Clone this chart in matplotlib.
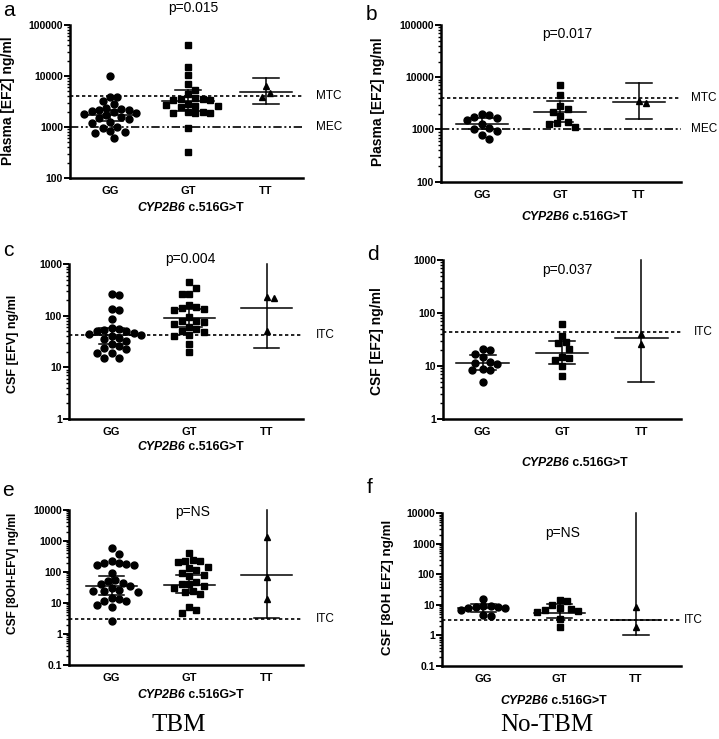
import numpy as np
import matplotlib.pyplot as plt
from matplotlib.ticker import FixedLocator, LogLocator, NullFormatter

plt.rcParams['font.family'] = ['Liberation Sans', 'DejaVu Sans']

W, H = 719, 739
genotypes = ['GG', 'GT', 'TT']

# a: plasma EFZ, TBM
a_gg = [10000, 3900, 3800, 3300, 2800, 2400, 2300, 2200, 2200, 2100, 2000, 1850,
        1800, 1700, 1600, 1500, 1450, 1250, 1200, 1000, 950, 820, 800, 780, 600]
a_gt = [40000, 15000, 10500, 7000, 5300, 4500, 3700, 3600, 3500, 3400, 3400, 2800,
        2700, 2600, 2600, 2500, 2000, 1950, 1900, 1900, 1850, 950, 330]
a_tt = [6300, 4700, 3900]
a_summ = [(1700, 1300, 2200), (3200, 2100, 5200), (4900, 2800, 9300)]

# b: plasma EFZ, no TBM
b_gg = [1950, 1900, 1750, 1650, 1500, 1300, 1050, 1000, 950, 780, 670]
b_gt = [7000, 4500, 2800, 2500, 2200, 1800, 1400, 1350, 1300, 1100]
b_tt = [3550, 3150]
b_summ = [(1270, 1000, 1650), (2200, 1400, 3550), (3400, 1620, 7900)]

# c: CSF EFV, TBM
c_gg = [260, 250, 135, 130, 88, 58, 55, 53, 52, 50, 47, 45, 42, 40, 38, 35, 33,
        28, 26, 24, 23, 19, 19, 15, 15]
c_gt = [450, 350, 270, 260, 165, 150, 140, 135, 130, 95, 80, 78, 75, 70, 60, 55,
        52, 48, 42, 40, 28, 20]
c_tt = [236, 225, 51]
c_summ = [(43, 29, 58), (90, 62, 135), (140, 24, 1000)]

# d: CSF EFZ, no TBM
d_gg = [20.5, 20, 17, 14.5, 12, 11.5, 11, 8.7, 8.5, 8.4, 5]
d_gt = [61, 37, 28, 27, 21, 14.5, 14, 13, 10, 6.5]
d_tt = [40, 26]
d_summ = [(11.6, 8.4, 16.2), (17.5, 10.7, 29), (34, 5, 1000)]

# e: CSF 8OH-EFV, TBM
e_gg = [580, 380, 230, 200, 190, 180, 170, 165, 90, 55, 50, 45, 40, 35, 30, 27,
        25, 24, 22, 14, 13, 12, 12, 8.5, 7.5, 2.6]
e_gt = [420, 250, 230, 220, 210, 150, 130, 115, 90, 80, 75, 48, 42, 40, 35, 30,
        25, 22, 20, 7.5, 6, 4.8]
e_tt = [1380, 71, 13]
e_summ = [(35, 18, 75), (38, 21, 80), (80, 3.4, 10000)]

# f: CSF 8OH EFZ, no TBM
f_gg = [16, 9, 9, 8.5, 8.5, 8, 8, 7, 4.8, 4.5]
f_gt = [15, 13, 10, 8, 7.5, 7, 6.5, 6, 3.5, 1.9]
f_tt = [8.8, 1.9]
f_summ = [(8.1, 6.0, 10.7), (5.6, 3.6, 10.5), (3.3, 1.0, 10000)]

mtc, mec, itc = 4000, 1000, 43
itc_8oh = 3.1


def fx(x):
    return x / W


def fy(y):
    return 1 - y / H


def swarm(vals, ppd, upx, d=7.4):
    # simple beeswarm in pixel space, returns x offsets in data units
    ys = np.log10(vals) * ppd
    xs = np.zeros(len(vals))
    placed = []
    for i in np.argsort(ys)[::-1]:
        for k in range(60):
            cand = ((k + 1) // 2) * (1 if k % 2 else -1) * d * 0.5
            ok = all((cand - px) ** 2 + (ys[i] - py) ** 2 >= d * d for px, py in placed)
            if ok:
                break
        placed.append((cand, ys[i]))
        xs[i] = cand * upx
    return xs


fig = plt.figure(figsize=(W / 100, H / 100), dpi=100)

panels = [
    dict(box=(70, 303, 25, 178), xlim=(-0.513, 2.474), ylim=(100, 100000),
         data=(a_gg, a_gt, a_tt), summ=a_summ,
         refs=[(mtc, 'MTC', (0, (2, 1.6))), (mec, 'MEC', (0, (5, 1.6, 1.2, 1.6, 1.2, 1.6)))],
         ylabel='Plasma [EFZ] ng/ml', ylpos=(8, 101), yfs=10,
         p='p=0.015', ppos=(193, 8), letter='a', lpos=(3, 1),
         xl=(185, 208), reflx=316),
    dict(box=(441, 681, 25, 181.7), xlim=(-0.52, 2.535), ylim=(100, 100000),
         data=(b_gg, b_gt, b_tt), summ=b_summ,
         refs=[(mtc, 'MTC', (0, (2, 1.6))), (mec, 'MEC', (0, (5, 1.6, 1.2, 1.6, 1.2, 1.6)))],
         ylabel='Plasma [EFZ] ng/ml', ylpos=(378, 102), yfs=10,
         p='p=0.017', ppos=(567, 34), letter='b', lpos=(366, 5),
         xl=(569, 217), reflx=691),
    dict(box=(69, 303, 264.3, 419), xlim=(-0.55, 2.47), ylim=(1, 1000),
         data=(c_gg, c_gt, c_tt), summ=c_summ,
         refs=[(itc, 'ITC', (0, (2, 1.6)))],
         ylabel='CSF [EFV] ng/ml', ylpos=(13, 344), yfs=9,
         p='p=0.004', ppos=(190, 259), letter='c', lpos=(3, 241),
         xl=(185, 447), reflx=316),
    dict(box=(443, 681, 260, 419), xlim=(-0.5, 2.5), ylim=(1, 1000),
         data=(d_gg, d_gt, d_tt), summ=d_summ,
         refs=[(itc, 'ITC', (0, (2, 1.6)))],
         ylabel='CSF [EFZ] ng/ml', ylpos=(377, 341), yfs=10,
         p='p=0.037', ppos=(567, 270), letter='d', lpos=(367, 245),
         xl=(569, 463), reflx=694),
    dict(box=(69, 303, 510, 665), xlim=(-0.55, 2.47), ylim=(0.1, 10000),
         data=(e_gg, e_gt, e_tt), summ=e_summ,
         refs=[(itc_8oh, 'ITC', (0, (2, 1.6)))],
         ylabel='CSF [8OH-EFV] ng/ml', ylpos=(13, 573), yfs=8.6,
         p='p=NS', ppos=(193, 512), letter='e', lpos=(2, 481),
         xl=(185, 695), reflx=316),
    dict(box=(442, 681, 513.3, 666), xlim=(-0.54, 2.59), ylim=(0.1, 10000),
         data=(f_gg, f_gt, f_tt), summ=f_summ,
         refs=[(itc_8oh, 'ITC', (0, (2, 1.6)))],
         ylabel='CSF [8OH EFZ] ng/ml', ylpos=(388, 587), yfs=9.6,
         p='p=NS', ppos=(563, 533), letter='f', lpos=(367, 478),
         xl=(548, 701), reflx=684),
]

markers = ['o', 's', '^']
msize = [5.0, 4.8, 4.6]

for P in panels:
    l, r, t, b = P['box']
    ax = fig.add_axes([fx(l), fy(b), (r - l) / W, (b - t) / H])
    ax.set_yscale('log')
    ax.set_xlim(*P['xlim'])
    ax.set_ylim(*P['ylim'])
    upx = (P['xlim'][1] - P['xlim'][0]) / (r - l)
    ppd = (b - t) / np.log10(P['ylim'][1] / P['ylim'][0])

    for val, lab, ls in P['refs']:
        ax.axhline(val, color='black', lw=1.2, ls=ls, clip_on=False, zorder=1)
        fig.text(fx(P['reflx']), fy(b - (np.log10(val / P['ylim'][0])) * ppd),
                 lab, fontsize=8.5, va='center', ha='left')

    for i, vals in enumerate(P['data']):
        vals = np.array(vals, dtype=float)
        xo = swarm(vals, ppd, upx)
        ax.plot(i + xo, vals, ls='none', marker=markers[i], ms=msize[i],
                color='black', zorder=3, clip_on=False)
        cen, lo, hi = P['summ'][i]
        ax.plot([i, i], [lo, hi], color='black', lw=1.1, zorder=4, clip_on=False)
        ax.plot([i - 0.33, i + 0.33], [cen, cen], color='black', lw=1.1, zorder=4)
        for v in (lo, hi):
            if v < P['ylim'][1]:
                ax.plot([i - 0.165, i + 0.165], [v, v], color='black', lw=1.1, zorder=4)

    for s in ('top', 'right'):
        ax.spines[s].set_visible(False)
    for s in ('left', 'bottom'):
        ax.spines[s].set_linewidth(1.8)

    lo_d = int(np.log10(P['ylim'][0]))
    hi_d = int(np.log10(P['ylim'][1]))
    majors = [10.0 ** k for k in range(lo_d, hi_d + 1)]
    ax.yaxis.set_major_locator(FixedLocator(majors))
    ax.set_yticklabels([('%g' % m) if m < 1 else str(int(m)) for m in majors],
                       fontsize=7.5, fontweight='bold')
    ax.yaxis.set_minor_locator(LogLocator(base=10, subs=np.arange(2, 10)))
    ax.yaxis.set_minor_formatter(NullFormatter())
    ax.tick_params(axis='y', which='major', length=4, width=1.4, pad=1)
    ax.tick_params(axis='y', which='minor', length=2.5, width=1.0)

    ax.set_xticks(range(3))
    ax.set_xticklabels(genotypes, fontsize=8, fontweight='bold')
    ax.tick_params(axis='x', length=0, pad=6)

    fig.text(fx(P['ylpos'][0]), fy(P['ylpos'][1]), P['ylabel'], rotation=90,
             ha='center', va='center', fontsize=P['yfs'], fontweight='bold')
    xs, yc = P['xl']
    fig.text(fx(xs), fy(yc), 'CYP2B6', ha='right', va='center', fontsize=8.8,
             fontweight='bold', style='italic')
    fig.text(fx(xs), fy(yc), ' c.516G>T', ha='left', va='center', fontsize=8.8,
             fontweight='bold')
    fig.text(fx(P['ppos'][0]), fy(P['ppos'][1]), P['p'], ha='center', va='center',
             fontsize=10)
    fig.text(fx(P['lpos'][0]), fy(P['lpos'][1]), P['letter'], ha='left', va='top',
             fontsize=15)

fig.text(fx(179), fy(725), 'TBM', ha='center', va='center', fontsize=18,
         family='Liberation Serif')
fig.text(fx(547), fy(725), 'No-TBM', ha='center', va='center', fontsize=18,
         family='Liberation Serif')

fig.savefig('out.png', dpi=100)
